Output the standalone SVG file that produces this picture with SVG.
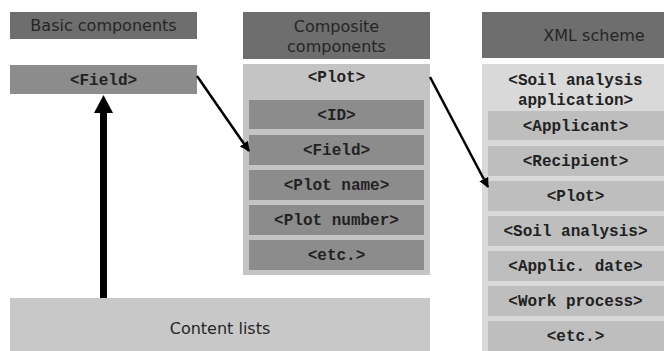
<svg xmlns="http://www.w3.org/2000/svg" width="664" height="351" viewBox="0 0 664 351">
<defs>
<style>
.hdr{fill:#6e6e6e}
.mid{fill:#8c8c8c}
.lc{fill:#c4c4c4}
.xc{fill:#d9d9d9}
.xi{fill:#bebebe}
.cl{fill:#c8c8c8}
.sans{font-family:"DejaVu Sans",sans-serif;font-size:16px;fill:#262626;text-anchor:middle}
.mono{font-family:"Liberation Mono","Courier New",monospace;font-weight:bold;font-size:16px;fill:#222;text-anchor:middle}
.ln{stroke:#000;stroke-width:2.5;fill:none}
</style>
<marker id="ah" viewBox="0 0 10 10" refX="9" refY="5" markerWidth="4" markerHeight="4" orient="auto" markerUnits="strokeWidth">
<path d="M0,0 L10,5 L0,10 z" fill="#000"/>
</marker>
</defs>
<rect width="664" height="351" fill="#fff"/>
<g id="basic-header"><rect class="hdr" x="10" y="12" width="187" height="27"/><text class="sans" x="103.5" y="31">Basic components</text></g>
<g id="basic-field"><rect class="mid" x="10" y="65" width="187" height="29"/><text class="mono" x="103.5" y="85">&lt;Field&gt;</text></g>
<g id="composite-header"><rect class="hdr" x="243" y="12" width="187" height="47"/><text class="sans" x="336.5" y="32">Composite</text><text class="sans" x="336.5" y="52">components</text></g>
<g id="composite-plot">
<rect class="lc" x="243" y="64" width="187" height="211"/>
<text class="mono" x="336.5" y="82">&lt;Plot&gt;</text>
<rect class="mid" x="249" y="100" width="175" height="29"/><text class="mono" x="336.5" y="120">&lt;ID&gt;</text>
<rect class="mid" x="249" y="135" width="175" height="30"/><text class="mono" x="336.5" y="155">&lt;Field&gt;</text>
<rect class="mid" x="249" y="170" width="175" height="30"/><text class="mono" x="336.5" y="190">&lt;Plot name&gt;</text>
<rect class="mid" x="249" y="205" width="175" height="30"/><text class="mono" x="336.5" y="225">&lt;Plot number&gt;</text>
<rect class="mid" x="249" y="240" width="175" height="30"/><text class="mono" x="336.5" y="260">&lt;etc.&gt;</text>
</g>
<g id="xml-header"><rect class="hdr" x="482" y="12" width="187" height="46"/><text class="sans" x="594" y="41">XML scheme</text></g>
<g id="xml-application">
<rect class="xc" x="482" y="64" width="187" height="290"/>
<text class="mono" x="575.5" y="85">&lt;Soil analysis</text>
<text class="mono" x="575.5" y="105">application&gt;</text>
<rect class="xi" x="488" y="111" width="181" height="29"/><text class="mono" x="575.5" y="131">&lt;Applicant&gt;</text>
<rect class="xi" x="488" y="146" width="181" height="30"/><text class="mono" x="575.5" y="166">&lt;Recipient&gt;</text>
<rect class="xi" x="488" y="181" width="181" height="30"/><text class="mono" x="575.5" y="201">&lt;Plot&gt;</text>
<rect class="xi" x="488" y="216" width="181" height="30"/><text class="mono" x="575.5" y="236">&lt;Soil analysis&gt;</text>
<rect class="xi" x="488" y="251" width="181" height="30"/><text class="mono" x="575.5" y="271">&lt;Applic. date&gt;</text>
<rect class="xi" x="488" y="286" width="181" height="30"/><text class="mono" x="575.5" y="306">&lt;Work process&gt;</text>
<rect class="xi" x="488" y="321" width="181" height="33"/><text class="mono" x="575.5" y="341">&lt;etc.&gt;</text>
</g>
<g id="content-lists"><rect class="cl" x="10" y="298" width="420" height="56"/><text class="sans" x="220" y="334">Content lists</text></g>
<g id="connectors">
<line class="ln" x1="197" y1="76" x2="249" y2="151" marker-end="url(#ah)"/>
<line class="ln" x1="430" y1="77" x2="488" y2="187" marker-end="url(#ah)"/>
<rect x="100" y="110" width="7" height="188" fill="#000"/>
<path d="M103.5,95 L113,113 L94,113 z" fill="#000"/>
</g>
</svg>
